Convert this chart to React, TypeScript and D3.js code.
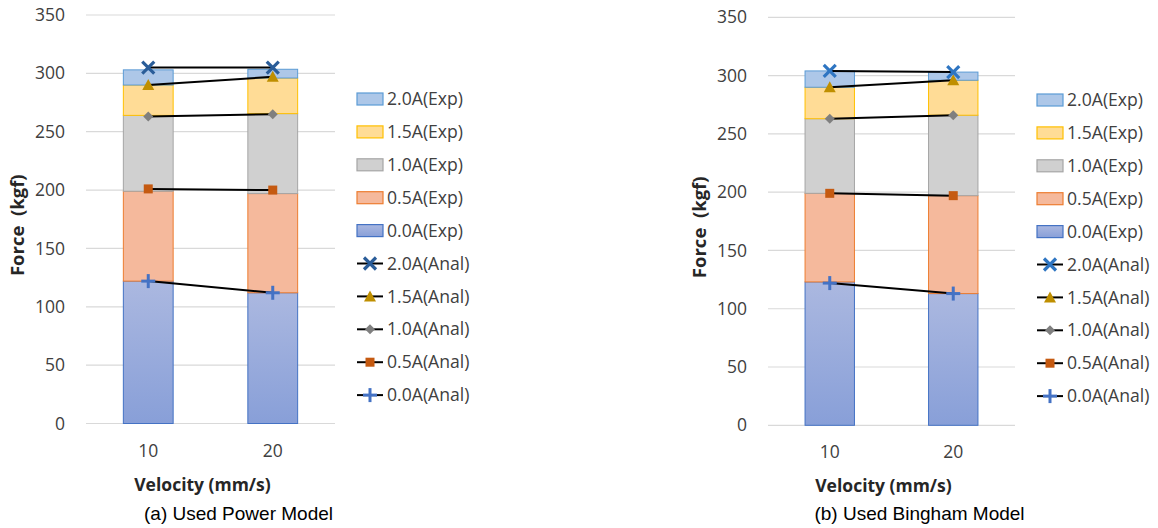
import * as d3 from "d3";

// data
const velocities = ["10", "20"];
const currents = ["0.0A", "0.5A", "1.0A", "1.5A", "2.0A"];
const yTicks = [0, 50, 100, 150, 200, 250, 300, 350];

// Exp: stacked segment sizes per velocity (bottom to top)
const powerExp = [
  [122, 77, 65, 26, 13],
  [112, 85, 68.5, 30.5, 7.5],
];
const binghamExp = [
  [123, 76, 64, 27, 14],
  [113, 84, 69, 30, 7],
];

// Anal: absolute values per current, at 10 and 20 mm/s
const powerAnal = [
  [122, 112],
  [201, 200],
  [263, 265],
  [290, 297],
  [305, 305],
];
const binghamAnal = [
  [122, 113],
  [199, 197],
  [263, 266],
  [290, 296],
  [304, 303],
];

const fills = ["url(#g0)", "#f5b99c", "#d0d0d0", "#ffdc96", "#adc7e8"];
const strokes = ["#4472c4", "#ed7d31", "#a5a5a5", "#ffc000", "#5b9bd5"];
const markerColors = ["#4472c4", "#c55a11", "#7f7f7f", "#bf8f00", "#2e62a0"];

const FONT = "'Open Sans', 'Noto Sans', sans-serif";

function Marker({ kind, x, y, color }: { kind: number; x: number; y: number; color: string }) {
  if (kind === 0)
    return (
      <g stroke={color} strokeWidth={3}>
        <line x1={x - 7} x2={x + 7} y1={y} y2={y} />
        <line x1={x} x2={x} y1={y - 7} y2={y + 7} />
      </g>
    );
  if (kind === 1) return <rect x={x - 4.5} y={y - 4.5} width={9} height={9} fill={color} />;
  if (kind === 2)
    return <path d={`M${x},${y - 5}L${x + 5},${y}L${x},${y + 5}L${x - 5},${y}Z`} fill={color} />;
  if (kind === 3)
    return <path d={`M${x},${y - 6}L${x + 6},${y + 5}L${x - 6},${y + 5}Z`} fill={color} />;
  return (
    <g stroke={color} strokeWidth={3.2}>
      <line x1={x - 6} x2={x + 6} y1={y - 6} y2={y + 6} />
      <line x1={x - 6} x2={x + 6} y1={y + 6} y2={y - 6} />
    </g>
  );
}

function Panel({
  exp,
  anal,
  x0,
  x1,
  yTop,
  yBottom,
  legendX,
  legendY,
  caption,
  xColor,
}: {
  exp: number[][];
  anal: number[][];
  x0: number;
  x1: number;
  yTop: number;
  yBottom: number;
  legendX: number;
  legendY: number;
  caption: string;
  xColor: string;
}) {
  const x = d3.scaleBand().domain(velocities).range([x0, x1]);
  const y = d3.scaleLinear().domain([0, 350]).range([yBottom, yTop]);
  const barW = x.bandwidth() * 0.4;
  const rows = exp.map((v, i) => {
    const o: any = { vel: velocities[i] };
    currents.forEach((c, j) => (o[c] = v[j]));
    return o;
  });
  const stacked = d3.stack<any>().keys(currents)(rows);
  const cx = (v: string) => (x(v) as number) + x.bandwidth() / 2;
  const line = d3
    .line<number>()
    .x((_, i) => cx(velocities[i]))
    .y((d) => y(d));
  const mColors = markerColors.map((c, i) => (i === 4 ? xColor : c));
  const legendStep = 32.9;
  const mid = (x0 + x1) / 2;

  return (
    <g fontFamily={FONT}>
      {yTicks.map((t) => (
        <g key={t}>
          <line x1={x0} x2={x1} y1={y(t)} y2={y(t)} stroke="#d9d9d9" strokeWidth={1.2} />
          <text x={x0 - 21} y={y(t)} dy="0.35em" textAnchor="end" fontSize={17.5} fill="#404040">
            {t}
          </text>
        </g>
      ))}
      {stacked.map((layer, i) => (
        <g key={i}>
          {layer.map((d, k) => (
            <rect
              key={k}
              x={cx(velocities[k]) - barW / 2}
              y={y(d[1])}
              width={barW}
              height={y(d[0]) - y(d[1])}
              fill={fills[i]}
              stroke={strokes[i]}
              strokeWidth={1}
            />
          ))}
        </g>
      ))}
      {anal.map((vals, i) => (
        <g key={i}>
          <path d={line(vals) || ""} fill="none" stroke="#000" strokeWidth={2} />
          {vals.map((v, k) => (
            <Marker key={k} kind={i} x={cx(velocities[k])} y={y(v)} color={mColors[i]} />
          ))}
        </g>
      ))}
      {velocities.map((v) => (
        <text key={v} x={cx(v)} y={yBottom + 27} dy="0.35em" textAnchor="middle" fontSize={17.5} fill="#404040">
          {v}
        </text>
      ))}
      <text x={mid - 8} y={yBottom + 61} dy="0.35em" textAnchor="middle" fontSize={17.5} fontWeight="bold" fill="#262626">
        Velocity (mm/s)
      </text>
      <text
        transform={`translate(${x0 - 68},${(yTop + yBottom) / 2 + 6}) rotate(-90)`}
        dy="0.35em"
        textAnchor="middle"
        fontSize={18.5}
        fontWeight="bold"
        fill="#262626"
        style={{ whiteSpace: "pre" }}
      >
        {"Force  (kgf)"}
      </text>
      <text
        x={mid + 28}
        y={513}
        dy="0.35em"
        textAnchor="middle"
        fontSize={19}
        fontFamily="'Liberation Sans', Arial, sans-serif"
        fill="#000"
      >
        {caption}
      </text>
      {/* legend */}
      {[4, 3, 2, 1, 0].map((i, r) => (
        <g key={"e" + i} transform={`translate(${legendX},${legendY + r * legendStep})`}>
          <rect x={0} y={-6} width={26} height={12} fill={fills[i]} stroke={strokes[i]} strokeWidth={1.2} />
          <text x={30} y={0} dy="0.35em" fontSize={17.6} fill="#404040">
            {currents[i]}(Exp)
          </text>
        </g>
      ))}
      {[4, 3, 2, 1, 0].map((i, r) => (
        <g key={"a" + i} transform={`translate(${legendX},${legendY + (r + 5) * legendStep})`}>
          <line x1={0} x2={26} y1={0} y2={0} stroke="#000" strokeWidth={2} />
          <Marker kind={i} x={13} y={0} color={mColors[i]} />
          <text x={30} y={0} dy="0.35em" fontSize={17.6} fill="#404040">
            {currents[i]}(Anal)
          </text>
        </g>
      ))}
    </g>
  );
}

export default function App() {
  return (
    <svg
      width={1158}
      height={528}
      style={{ position: "absolute", left: 0, top: 0, background: "#fff" }}
    >
      <defs>
        <linearGradient id="g0" x1="0" y1="0" x2="0" y2="1">
          <stop offset="0" stopColor="#abb8e0" />
          <stop offset="1" stopColor="#889fd8" />
        </linearGradient>
      </defs>
      <rect width={1158} height={528} fill="#fff" />
      <Panel
        exp={powerExp}
        anal={powerAnal}
        x0={86}
        x1={335}
        yTop={15}
        yBottom={423.5}
        legendX={357}
        legendY={99}
        caption="(a) Used Power Model"
        xColor="#2a5d99"
      />
      <Panel
        exp={binghamExp}
        anal={binghamAnal}
        x0={768}
        x1={1015}
        yTop={17.3}
        yBottom={425.3}
        legendX={1037}
        legendY={100}
        caption="(b) Used Bingham Model"
        xColor="#2e75c2"
      />
    </svg>
  );
}
